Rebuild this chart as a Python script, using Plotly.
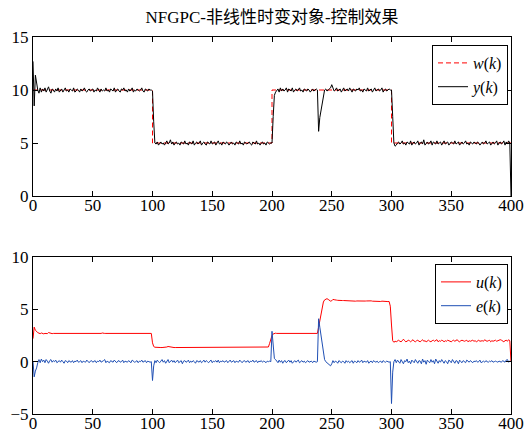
import plotly.graph_objects as go

# sample index
k = list(range(401))

# setpoint w(k): change points and levels (step signal)
w_k = [0, 100, 200, 300, 400]
w_val = [10, 5, 10, 5, 5]

# plant output y(k)
y = [
    12.7, 8.5, 11.4, 10.6, 10.0, 9.7, 10.2, 9.8, 10.1, 9.9,
    10.2, 9.8, 10.0, 10.3, 9.9, 9.7, 10.1, 10.0, 9.8, 10.1,
    9.9, 10.2, 9.8, 10.0, 10.1, 9.8, 10.0, 10.2, 9.9, 10.0,
    9.8, 10.1, 10.0, 9.9, 10.2, 9.8, 9.9, 10.1, 10.0, 9.8,
    10.1, 9.9, 10.0, 10.2, 9.9, 9.8, 10.0, 10.1, 9.9, 10.0,
    10.1, 9.8, 10.0, 9.9, 10.2, 10.0, 9.8, 10.1, 9.9, 10.0,
    9.9, 10.2, 9.9, 10.0, 9.8, 10.1, 10.0, 9.9, 10.2, 9.8,
    10.0, 10.1, 9.9, 9.8, 10.1, 10.0, 10.2, 9.9, 10.0, 9.8,
    10.1, 9.9, 10.0, 10.2, 9.8, 10.0, 9.9, 10.1, 10.0, 9.9,
    10.0, 10.2, 9.9, 9.8, 10.1, 10.0, 9.9, 10.1, 10.0, 10.0,
    9.9, 7.0, 5.0, 4.9, 5.1, 4.8, 5.0, 5.1, 4.9, 5.0,
    4.8, 5.0, 5.2, 4.9, 5.0, 5.3, 4.9, 5.1, 4.8, 5.0,
    5.1, 4.9, 5.0, 4.8, 5.1, 5.0, 4.9, 5.2, 4.9, 5.0,
    4.8, 5.1, 5.0, 4.9, 5.2, 4.8, 5.0, 5.1, 4.9, 5.0,
    5.2, 4.8, 5.0, 5.1, 4.9, 4.8, 5.1, 5.0, 4.9, 5.2,
    4.9, 5.0, 5.1, 4.8, 5.0, 5.2, 4.9, 5.0, 4.8, 5.1,
    5.0, 4.9, 5.1, 5.0, 4.8, 5.0, 5.1, 4.9, 5.0, 4.8,
    5.1, 5.0, 4.9, 5.2, 4.9, 5.0, 4.8, 5.1, 5.0, 4.9,
    5.0, 5.1, 4.9, 4.8, 5.1, 5.0, 4.9, 5.2, 4.9, 5.0,
    4.8, 5.0, 5.1, 4.9, 5.0, 4.8, 5.1, 5.0, 4.9, 5.0,
    5.0, 7.5, 9.5, 9.8, 10.0, 10.1, 9.8, 10.2, 9.9, 10.1,
    9.9, 10.0, 10.2, 9.8, 10.1, 10.0, 9.9, 10.2, 9.8, 10.0,
    10.1, 9.9, 10.0, 10.2, 9.9, 10.0, 9.8, 10.1, 10.0, 9.9,
    10.1, 10.0, 9.8, 10.0, 10.1, 9.9, 10.0, 10.1, 10.0, 6.1,
    7.4, 8.0, 8.6, 9.4, 10.0, 10.1, 9.9, 10.0, 10.1, 10.2,
    10.5, 10.1, 9.9, 10.0, 10.2, 9.9, 10.0, 10.1, 9.8, 10.0,
    10.2, 9.9, 10.0, 10.1, 9.9, 10.2, 10.0, 9.8, 10.1, 10.0,
    9.9, 10.1, 10.0, 10.2, 9.9, 10.0, 9.8, 10.1, 10.0, 9.9,
    10.2, 9.9, 10.0, 10.1, 9.8, 10.0, 10.2, 9.9, 10.0, 10.1,
    9.9, 10.0, 10.2, 9.8, 10.0, 10.1, 9.9, 10.0, 10.1, 10.0,
    10.0, 7.5, 5.0, 4.7, 4.8, 5.0, 5.1, 4.9, 5.0, 5.2,
    4.9, 5.0, 4.8, 5.1, 5.0, 4.9, 5.2, 4.8, 5.0, 5.1,
    4.9, 5.0, 5.2, 4.8, 5.0, 5.1, 4.9, 5.3, 4.8, 5.0,
    5.1, 4.9, 5.0, 5.2, 4.8, 5.1, 5.0, 4.9, 5.2, 4.9,
    5.0, 5.1, 4.8, 5.0, 5.2, 4.9, 5.0, 5.1, 4.8, 5.0,
    5.1, 5.0, 4.9, 5.2, 4.9, 5.0, 5.1, 4.8, 5.0, 5.1,
    4.9, 5.0, 5.2, 4.9, 5.0, 4.8, 5.1, 5.0, 4.9, 5.1,
    5.0, 4.9, 5.1, 5.0, 4.8, 5.0, 5.1, 4.9, 5.0, 5.2,
    4.9, 5.0, 5.1, 4.8, 5.0, 5.1, 4.9, 5.0, 5.2, 4.8,
    5.0, 5.1, 4.9, 5.0, 5.2, 4.8, 5.1, 4.9, 5.2, 5.0,
    0.0,
]

# control input u(k)
u = [
    2.2, 3.3, 3.0, 2.85, 2.78, 2.72, 2.68, 2.74, 2.7, 2.66,
    2.7, 2.72, 2.68, 2.78, 2.72, 2.7, 2.68, 2.7, 2.7, 2.72,
    2.7, 2.7, 2.68, 2.7, 2.7, 2.7, 2.66, 2.72, 2.7, 2.7,
    2.7, 2.7, 2.7, 2.7, 2.7, 2.7, 2.7, 2.7, 2.7, 2.7,
    2.7, 2.7, 2.7, 2.7, 2.7, 2.7, 2.7, 2.7, 2.7, 2.7,
    2.7, 2.7, 2.7, 2.7, 2.7, 2.7, 2.7, 2.7, 2.74, 2.7,
    2.7, 2.7, 2.7, 2.7, 2.7, 2.7, 2.7, 2.7, 2.7, 2.7,
    2.7, 2.7, 2.7, 2.7, 2.7, 2.7, 2.7, 2.7, 2.7, 2.7,
    2.7, 2.7, 2.7, 2.7, 2.7, 2.7, 2.7, 2.7, 2.7, 2.7,
    2.7, 2.7, 2.7, 2.7, 2.7, 2.7, 2.7, 2.7, 2.7, 2.7,
    1.8, 1.45, 1.38, 1.36, 1.35, 1.35, 1.35, 1.35, 1.35, 1.35,
    1.35, 1.36, 1.4, 1.45, 1.42, 1.38, 1.36, 1.35, 1.35, 1.35,
    1.35, 1.35, 1.35, 1.35, 1.35, 1.35, 1.35, 1.35, 1.35, 1.35,
    1.35, 1.35, 1.37, 1.35, 1.35, 1.38, 1.35, 1.35, 1.35, 1.35,
    1.35, 1.37, 1.35, 1.35, 1.36, 1.35, 1.38, 1.35, 1.35, 1.35,
    1.35, 1.35, 1.37, 1.35, 1.38, 1.35, 1.35, 1.35, 1.35, 1.35,
    1.35, 1.35, 1.35, 1.35, 1.35, 1.35, 1.35, 1.35, 1.35, 1.35,
    1.35, 1.35, 1.35, 1.35, 1.35, 1.35, 1.35, 1.35, 1.35, 1.35,
    1.35, 1.35, 1.35, 1.35, 1.35, 1.35, 1.35, 1.35, 1.35, 1.35,
    1.35, 1.35, 1.35, 1.35, 1.35, 1.35, 1.35, 1.4, 1.75, 2.15,
    2.5, 2.65, 2.7, 2.72, 2.7, 2.7, 2.7, 2.7, 2.7, 2.7,
    2.7, 2.7, 2.7, 2.7, 2.7, 2.7, 2.7, 2.7, 2.7, 2.7,
    2.7, 2.7, 2.7, 2.7, 2.7, 2.7, 2.7, 2.7, 2.7, 2.7,
    2.7, 2.7, 2.7, 2.7, 2.7, 2.7, 2.7, 2.7, 2.7, 3.3,
    4.0, 4.7, 5.3, 5.7, 5.9, 6.0, 6.02, 5.95, 5.85, 5.78,
    5.82, 5.95, 5.92, 5.86, 5.88, 5.86, 5.84, 5.86, 5.85, 5.84,
    5.84, 5.83, 5.85, 5.82, 5.8, 5.8, 5.8, 5.79, 5.8, 5.8,
    5.78, 5.8, 5.79, 5.82, 5.8, 5.78, 5.8, 5.8, 5.79, 5.8,
    5.82, 5.78, 5.8, 5.81, 5.78, 5.77, 5.76, 5.77, 5.76, 5.75,
    5.76, 5.75, 5.78, 5.76, 5.75, 5.75, 5.76, 5.74, 5.75, 5.3,
    3.5, 2.0, 1.85, 1.95, 1.9, 2.0, 2.05, 1.95, 1.9, 2.0,
    2.15, 2.0, 1.9, 1.95, 2.05, 2.0, 1.9, 2.0, 2.1, 1.95,
    1.9, 2.0, 2.05, 1.95, 1.9, 2.0, 2.1, 1.95, 2.0, 1.9,
    2.0, 2.05, 1.95, 1.9, 2.0, 2.05, 1.95, 2.0, 2.1, 1.9,
    2.0, 1.95, 2.05, 2.0, 1.9, 2.0, 1.95, 2.05, 2.0, 1.95,
    1.9, 2.0, 2.05, 1.95, 2.0, 2.1, 1.95, 1.9, 2.0, 2.05,
    2.0, 1.95, 2.0, 2.05, 1.9, 2.0, 1.95, 2.0, 2.05, 1.95,
    2.0, 1.9, 2.0, 2.05, 1.95, 2.0, 2.0, 1.95, 2.1, 2.0,
    1.95, 2.0, 2.05, 1.9, 2.0, 1.95, 2.0, 2.05, 1.95, 2.0,
    2.0, 2.1, 2.05, 1.95, 1.9, 2.0, 2.05, 1.95, 2.1, 2.0,
    0.0,
]

# tracking error e(k)
e = [
    0.0, -1.45, -0.9, -0.6, -0.1, 0.2, -0.1, 0.25, 0.0, 0.15,
    -0.1, 0.2, 0.05, -0.15, 0.1, 0.2, -0.05, 0.1, 0.0, 0.15,
    -0.1, 0.05, 0.1, -0.05, 0.15, 0.0, -0.15, 0.1, 0.05, -0.1,
    0.1, 0.0, -0.05, 0.1, -0.1, 0.05, 0.0, 0.15, -0.05, 0.0,
    0.1, -0.1, 0.05, 0.0, -0.05, 0.15, 0.0, -0.1, 0.05, 0.1,
    -0.05, 0.0, 0.1, -0.1, 0.05, 0.0, 0.15, -0.05, 0.0, 0.1,
    0.2, -0.1, 0.05, 0.0, -0.1, 0.1, 0.05, -0.05, 0.15, 0.0,
    -0.1, 0.05, 0.1, -0.05, 0.0, 0.15, -0.1, 0.05, 0.0, -0.05,
    0.1, 0.0, -0.1, 0.15, 0.05, -0.05, 0.0, 0.1, -0.1, 0.05,
    0.0, 0.15, -0.05, 0.0, 0.1, -0.1, 0.05, 0.0, -0.05, 0.0,
    -1.8, -0.4, 0.1, -0.1, 0.15, 0.0, -0.1, 0.05, 0.2, -0.05,
    0.1, -0.15, 0.05, 0.2, -0.1, 0.0, 0.15, -0.05, 0.1, -0.1,
    0.05, 0.15, -0.1, 0.0, 0.1, -0.2, 0.05, 0.1, -0.05, 0.0,
    0.15, -0.1, 0.05, -0.05, 0.1, 0.0, -0.15, 0.1, 0.05, -0.05,
    0.1, -0.1, 0.0, 0.15, -0.05, 0.1, 0.0, -0.1, 0.05, 0.15,
    -0.1, 0.05, 0.0, 0.1, -0.05, 0.15, -0.1, 0.05, 0.0, 0.1,
    -0.05, 0.0, 0.1, -0.1, 0.05, 0.15, -0.05, 0.0, 0.1, -0.1,
    0.05, 0.0, -0.05, 0.15, 0.0, -0.1, 0.05, 0.1, -0.05, 0.0,
    0.1, -0.1, 0.05, 0.0, 0.15, -0.05, 0.0, 0.1, -0.1, 0.05,
    0.0, 0.1, -0.05, 0.05, 0.0, -0.1, 0.05, 0.0, 0.05, 0.0,
    2.9, 1.2, 0.3, 0.2, 0.05, -0.1, 0.15, -0.05, 0.1, -0.15,
    0.05, 0.1, -0.1, 0.0, 0.15, -0.05, 0.1, -0.15, 0.0, 0.1,
    -0.05, 0.05, 0.15, -0.1, 0.0, 0.1, -0.05, 0.05, -0.1, 0.0,
    0.1, -0.05, 0.0, 0.05, -0.1, 0.05, 0.0, -0.05, 0.0, 4.1,
    3.3, 2.4, 1.5, 0.7, 0.2, 0.0, -0.1, -0.2, -0.3, -0.4,
    -0.2, 0.1, -0.1, 0.05, 0.0, -0.15, 0.1, 0.0, -0.1, 0.05,
    0.0, -0.15, 0.1, -0.05, 0.05, -0.1, 0.0, 0.1, -0.15, 0.05,
    0.0, -0.1, 0.1, -0.05, 0.0, 0.15, -0.1, 0.05, 0.0, -0.05,
    0.1, -0.15, 0.0, 0.05, -0.1, 0.1, 0.0, -0.05, 0.05, -0.1,
    0.0, 0.05, -0.1, 0.1, 0.0, -0.05, 0.05, 0.0, -0.05, 0.0,
    -4.0, -1.0, 0.0, 0.2, -0.1, 0.15, 0.0, -0.15, 0.2, 0.05,
    -0.2, 0.1, 0.0, 0.25, -0.1, 0.05, -0.2, 0.15, 0.0, -0.1,
    0.2, 0.0, -0.15, 0.1, 0.05, -0.2, 0.25, -0.05, 0.1, -0.25,
    0.15, 0.0, -0.1, 0.2, -0.05, 0.1, -0.2, 0.25, 0.0, -0.15,
    0.1, -0.05, 0.2, 0.0, -0.15, 0.1, 0.0, -0.2, 0.15, 0.05,
    -0.1, 0.2, 0.0, -0.15, 0.1, 0.05, -0.2, 0.15, 0.0, -0.1,
    0.1, 0.0, -0.1, 0.15, 0.0, -0.05, 0.1, 0.0, -0.1, 0.05,
    0.0, 0.1, -0.05, 0.0, 0.15, -0.1, 0.0, 0.05, -0.05, 0.1,
    0.0, -0.05, 0.05, 0.0, 0.1, -0.05, 0.0, 0.05, 0.0, -0.05,
    0.05, 0.0, -0.05, 0.1, 0.0, -0.05, 0.15, 0.2, -0.05, 0.05,
    0.0,
]

assert len(y) == len(u) == len(e) == len(k)

x_ticks = [0, 50, 100, 150, 200, 250, 300, 350, 400]
top_ticks = [0, 5, 10, 15]
bot_ticks = [-5, 0, 5, 10]

SERIF = "Liberation Serif, Times New Roman, Noto Sans CJK SC, serif"
W, H = 530, 435

fig = go.Figure()

fig.add_trace(go.Scatter(
    x=w_k, y=w_val, mode="lines", line_shape="hv",
    line=dict(color="#ff0000", width=1, dash="5px,3px"),
    name="<i>w</i>(<i>k</i>)", xaxis="x", yaxis="y", legend="legend",
))
fig.add_trace(go.Scatter(
    x=k, y=y, mode="lines", line=dict(color="#000000", width=1),
    name="<i>y</i>(<i>k</i>)", xaxis="x", yaxis="y", legend="legend",
))
fig.add_trace(go.Scatter(
    x=k, y=u, mode="lines", line=dict(color="#ff0000", width=1),
    name="<i>u</i>(<i>k</i>)", xaxis="x2", yaxis="y2", legend="legend2",
))
fig.add_trace(go.Scatter(
    x=k, y=e, mode="lines", line=dict(color="#1f4fb4", width=1),
    name="<i>e</i>(<i>k</i>)", xaxis="x2", yaxis="y2", legend="legend2",
))

x_dom = [33 / W, 511 / W]
top_dom = [1 - 196 / H, 1 - 37 / H]
bot_dom = [1 - 414 / H, 1 - 257 / H]

axis_common = dict(
    showline=True, linecolor="black", linewidth=1, mirror="ticks",
    ticks="inside", ticklen=5, tickcolor="black", tickwidth=1,
    showgrid=False, zeroline=False,
    tickfont=dict(family=SERIF, size=17, color="black"),
    automargin=False,
)

legend_common = dict(
    x=508 / W, xanchor="right", yanchor="top",
    bgcolor="white", bordercolor="black", borderwidth=1,
    font=dict(family=SERIF, size=16, color="black"),
    tracegroupgap=0, itemwidth=30,
)

fig.update_layout(
    width=W, height=H,
    margin=dict(l=0, r=0, t=0, b=0),
    paper_bgcolor="white", plot_bgcolor="white",
    title=dict(
        text="NFGPC-非线性时变对象-控制效果",
        x=272 / W, xanchor="center", y=1 - 17 / H, yanchor="middle",
        font=dict(family=SERIF, size=17, color="black"),
    ),
    xaxis=dict(domain=x_dom, range=[0, 400], tickvals=x_ticks,
               anchor="y", ticklabelstandoff=-6, **axis_common),
    yaxis=dict(domain=top_dom, range=[0, 15], tickvals=top_ticks,
               anchor="x", **axis_common),
    xaxis2=dict(domain=x_dom, range=[0, 400], tickvals=x_ticks,
                anchor="y2", ticklabelstandoff=-6, **axis_common),
    yaxis2=dict(domain=bot_dom, range=[-5, 10], tickvals=bot_ticks,
                anchor="x2", **axis_common),
    showlegend=True,
    legend=dict(y=1 - 45 / H, **legend_common),
    legend2=dict(y=1 - 264 / H, **legend_common),
)

fig.write_html("out.html")
